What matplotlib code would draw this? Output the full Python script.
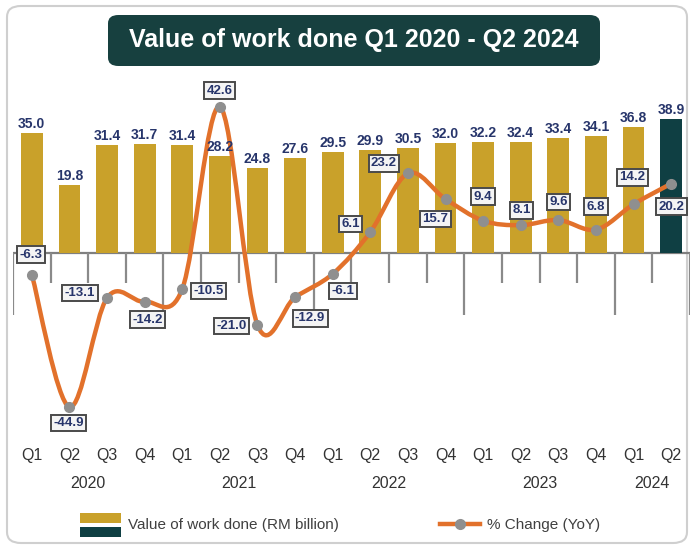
import numpy as np
import matplotlib
matplotlib.use('Agg')
import matplotlib.pyplot as plt
import matplotlib.transforms as mtransforms
from matplotlib.path import Path
from matplotlib.patches import PathPatch, FancyBboxPatch, Rectangle
from matplotlib.lines import Line2D

# datos
quarters = ['Q1', 'Q2', 'Q3', 'Q4'] * 4 + ['Q1', 'Q2']
years = ['2020', '2021', '2022', '2023', '2024']
value = [35.0, 19.8, 31.4, 31.7, 31.4, 28.2, 24.8, 27.6, 29.5, 29.9, 30.5, 32.0,
         32.2, 32.4, 33.4, 34.1, 36.8, 38.9]
change = [-6.3, -44.9, -13.1, -14.2, -10.5, 42.6, -21.0, -12.9, -6.1, 6.1, 23.2, 15.7,
          9.4, 8.1, 9.6, 6.8, 14.2, 20.2]

# posicion de las etiquetas de % (en pixeles respecto al punto)
lab_off = [(-1, 20), (-1, -16), (-27, 5), (3, -18), (26, -2), (0, 16), (-26, -1),
           (15, -21), (10, -17), (-20, 8), (-24, 10), (-10, -20), (0, 24), (1, 15),
           (0, 18), (0, 23), (-1, 27), (0, -23)]

gold = '#C9A12A'
teal = '#0F3F43'
orange = '#E2712B'
navy = '#27356B'
fam = ['Liberation Sans', 'DejaVu Sans']

W, H = 694, 549
fig = plt.figure(figsize=(W / 100, H / 100), dpi=100)
fig.patch.set_facecolor('white')

# marco redondeado
fig.add_artist(FancyBboxPatch((7 / W, 6 / H), 680 / W, 537 / H,
                              boxstyle='round,pad=0,rounding_size=0.02',
                              transform=fig.transFigure, fc='none', ec='#cfcfcf',
                              lw=1.5, zorder=-1))

ax = fig.add_axes([13 / W, 1 - 440 / H, 677 / W, 360 / H])
ax.set_facecolor('none')
n = len(value)
x = np.arange(n)

cols = [gold] * (n - 1) + [teal]
bars = ax.bar(x, value, width=0.58, color=cols, zorder=2)
for b, v in zip(bars, value):
    ax.annotate('{:.1f}'.format(v), (b.get_x() + b.get_width() / 2, v),
                xytext=(0, 2), textcoords='offset pixels', ha='center', va='bottom',
                fontsize=10, fontweight='bold', color=navy, family=fam, zorder=6)

# eje en cero con marcas
ax.axhline(0, color='#7f7f7f', lw=1.6, zorder=1)
bounds = np.arange(n + 1) - 0.5
longs = [0, 4, 8, 12, 16, 18]
for i, b in enumerate(bounds):
    ax.vlines(b, -18.0 if i in longs else -8.8, 0, color='#8a8a8a', lw=1.6, zorder=1)

# linea suavizada (bezier tipo catmull-rom)
pts = np.column_stack([x, change])
verts = [pts[0]]
codes = [Path.MOVETO]
for i in range(n - 1):
    p0 = pts[max(i - 1, 0)]
    p1 = pts[i]
    p2 = pts[i + 1]
    p3 = pts[min(i + 2, n - 1)]
    verts += [p1 + (p2 - p0) / 6, p2 - (p3 - p1) / 6, p2]
    codes += [Path.CURVE4] * 3
ax.add_patch(PathPatch(Path(verts, codes), fill=False, ec=orange, lw=3.2,
                       capstyle='round', joinstyle='round', zorder=3))
ax.plot(x, change, 'o', color='#8f8f8f', ms=7, zorder=4)

for xi, c, off in zip(x, change, lab_off):
    ax.annotate('{:.1f}'.format(c), (xi, c), xytext=off, textcoords='offset pixels',
                ha='center', va='center', fontsize=9.5, fontweight='bold', color=navy,
                family=fam, zorder=7,
                bbox=dict(boxstyle='square,pad=0.18', fc='#f4f4f4', ec='#4a4a4a', lw=1.4))

ax.set_xlim(-0.5, n - 0.5)
ax.set_ylim(-54.5, 50.4)
ax.set_yticks([])
ax.set_xticks(x, labels=quarters)
ax.tick_params(axis='x', length=0, pad=6, labelsize=11.5, labelcolor='#333333')
for t in ax.get_xticklabels():
    t.set_family(fam)
for s in ax.spines.values():
    s.set_visible(False)

# años
trans = mtransforms.blended_transform_factory(ax.transData, fig.transFigure)
year_pos = [1.5, 5.5, 9.5, 13.5, 16.5]
for yp, yr in zip(year_pos, years):
    ax.text(yp, 1 - 484 / H, yr, transform=trans, ha='center', va='center',
            fontsize=11.5, color='#333333', family=fam)

# titulo
fig.add_artist(FancyBboxPatch((108 / W, 1 - 66 / H), 492 / W, 51 / H,
                              boxstyle='round,pad=0,rounding_size=0.015',
                              transform=fig.transFigure, fc='#17403F', ec='none'))
fig.text(354 / W, 1 - 40 / H, 'Value of work done Q1 2020 - Q2 2024', ha='center',
         va='center', fontsize=18, fontweight='bold', color='white', family=fam)

# leyenda
fig.add_artist(Rectangle((80 / W, 1 - 523 / H), 41 / W, 10 / H, transform=fig.transFigure,
                         fc=gold, ec='none'))
fig.add_artist(Rectangle((80 / W, 1 - 537 / H), 41 / W, 10 / H, transform=fig.transFigure,
                         fc=teal, ec='none'))
fig.text(128 / W, 1 - 525 / H, 'Value of work done (RM billion)', ha='left', va='center',
         fontsize=11, color='#404040', family=fam)
fig.add_artist(Line2D([440 / W, 480 / W], [1 - 524 / H] * 2, transform=fig.transFigure,
                      color=orange, lw=3.2))
fig.add_artist(Line2D([460 / W], [1 - 524 / H], transform=fig.transFigure, marker='o',
                      color='#8f8f8f', ms=7))
fig.text(487 / W, 1 - 525 / H, '% Change (YoY)', ha='left', va='center',
         fontsize=11, color='#404040', family=fam)

fig.savefig('out.png', dpi=100)
